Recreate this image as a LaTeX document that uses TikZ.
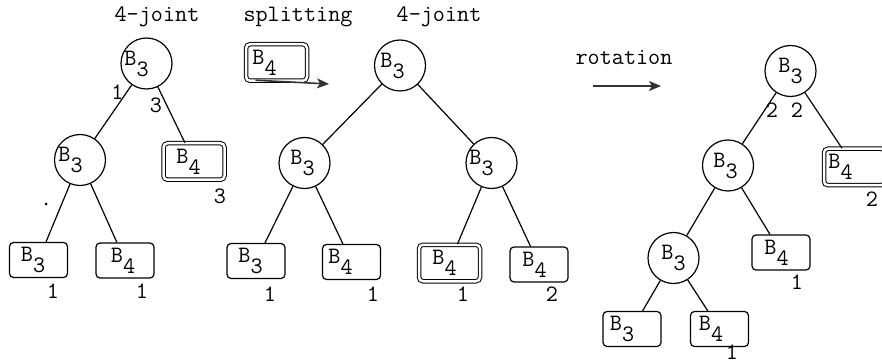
\documentclass[tikz,border=0pt]{standalone}
\usepackage{fontspec}
\usetikzlibrary{arrows.meta}
% block name with a lowered index; #2 pads the right side so the text sits left of centre
\newcommand\lowidx[1]{\raisebox{-11pt}{#1}}
\newcommand\blk[2]{B\lowidx{#1}\hspace*{#2}}

\begin{document}
\begin{tikzpicture}[x=1pt,y=-1pt,
  font=\ttfamily\fontsize{23.5}{28}\selectfont,
  every node/.style={inner sep=0pt},
  link/.style={line width=1.2pt},
  joint/.style={circle, draw, line width=1.2pt, minimum size=51pt},
  leaf/.style={draw, line width=1.2pt, rounded corners=4pt, minimum width=58pt, minimum height=35pt},
  hold/.style={draw, line width=1pt, double, double distance=2.5pt, rounded corners=4pt,
               minimum width=61pt, minimum height=36.5pt},
  weight/.style={anchor=center},
  caption/.style={anchor=base},
  move/.style={line width=1.6pt, black!80, -{Stealth[length=12pt,width=10pt,inset=3pt]}},
]
\clip (0,0) rectangle (882,363);

% headings
\node[caption] (h1) at (157,22)   {4-joint};
\node[caption] (h2) at (298,21.5) {splitting};
\node[caption] (h3) at (439,22)   {4-joint};
\node[caption] (h4) at (624,65)   {rotation};

% ---- first tree
\node[joint] (r1) at (146.5,63.5) {\blk{3}{20pt}};
\node[joint] (a1) at (80,160)     {\blk{3}{19pt}};
\node[hold]  (b1) at (194,161.5)  {\blk{4}{11pt}};
\node[leaf]  (c1) at (38.5,260)   {\blk{3}{11pt}};
\node[leaf]  (d1) at (125,260.5)  {\blk{4}{4pt}};
\draw[link] (r1) -- (a1);
\draw[link] (r1) -- (b1);
\draw[link] (a1) -- (c1);
\draw[link] (a1) -- (d1);
\node[weight] (w1) at (117.5,92)  {1};
\node[weight] (w2) at (156,105)   {3};
\node[weight] (w3) at (220,196)   {3};
\node[weight] (w4) at (53,291.5)  {1};
\node[weight] (w5) at (142,291.5) {1};
\fill (46,204) circle (1.5pt);

% ---- the block split off
\node[hold] (sp) at (276.5,62.5) {\blk{4}{24pt}};
\coordinate (sptip) at (329,84);
\draw[move] ([xshift=10pt,yshift=1pt]sp.south west) -- (sptip);

% ---- second tree
\node[joint] (r2) at (400,65.5)   {\blk{3}{15pt}};
\node[joint] (a2) at (304.5,163)  {\blk{3}{4pt}};
\node[joint] (b2) at (491.5,163)  {\blk{3}{20pt}};
\node[leaf]  (c2) at (256,261)    {\blk{3}{11pt}};
\node[leaf]  (d2) at (351.5,262)  {\blk{4}{22pt}};
\node[hold]  (e2) at (449.5,263)  {\blk{4}{10pt}};
\node[leaf]  (f2) at (539,264.5)  {\blk{4}{9pt}};
\draw[link] (r2) -- (a2);
\draw[link] (r2) -- (b2);
\draw[link] (a2) -- (c2);
\draw[link] (a2) -- (d2);
\draw[link] (b2) -- (e2);
\draw[link] (b2) -- (f2);
\node[weight] (w6) at (270,294) {1};
\node[weight] (w7) at (373,294) {1};
\node[weight] (w8) at (463,294) {1};
\node[weight] (w9) at (552,294) {2};

% ---- rotation arrow
\coordinate (rotA) at (593,86);
\coordinate (rotB) at (661,86);
\draw[move] (rotA) -- (rotB);

% ---- third tree
\node[joint] (r3) at (790.5,71)   {\blk{3}{0pt}};
\node[joint] (a3) at (728,165.5)  {\blk{3}{5pt}};
\node[hold]  (b3) at (854.5,167)  {\blk{4}{28pt}};
\node[joint] (c3) at (673.5,258)  {\blk{3}{0pt}};
\node[leaf]  (d3) at (781,252.5)  {\blk{4}{9pt}};
\node[leaf]  (e3) at (632,329)    {\blk{3}{20pt}};
\node[leaf]  (f3) at (719.5,329)  {\blk{4}{17pt}};
\draw[link] (r3) -- (a3);
\draw[link] (r3) -- (b3);
\draw[link] (a3) -- (c3);
\draw[link] (a3) -- (d3);
\draw[link] (c3) -- (e3);
\draw[link] (c3) -- (f3);
\node[weight] (w10) at (772,110) {2};
\node[weight] (w11) at (797,110) {2};
\node[weight] (w12) at (872,199) {2};
\node[weight] (w13) at (797,282) {1};
\node[weight] (w14) at (732,352) {1};
\end{tikzpicture}
\end{document}
